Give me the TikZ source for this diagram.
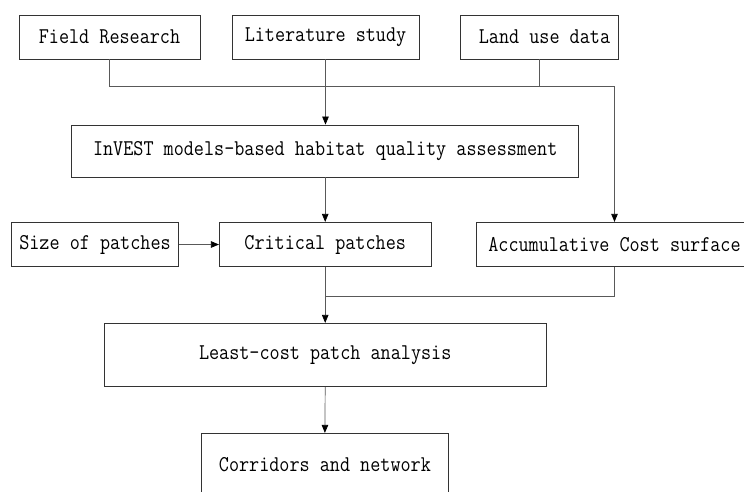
\documentclass[tikz,border=0pt]{standalone}
\usepackage{fontspec}
\usepackage{graphicx}
\usetikzlibrary{arrows.meta}
\newcommand\tallt[1]{\scalebox{1}[1.15]{#1}}
\begin{document}
\begin{tikzpicture}[x=1pt,y=-1pt,
  box/.style={draw=black!80,line width=0.8pt,inner sep=0pt,
    font=\ttfamily\fontsize{19.6}{22}\selectfont},
  conn/.style={draw=black!65,line width=0.7pt},
  arr/.style={conn,-{Triangle[length=8pt,width=6.5pt,color=black]}}]
\useasboundingbox (0,0) rectangle (744,491);
\clip (0,0) rectangle (744,491);
\node[box,minimum width=181pt,minimum height=44pt] (fr) at (109.5,37) {\tallt{Field Research}};
\node[box,minimum width=187pt,minimum height=44pt] (lit) at (325.5,37) {\tallt{Literature study}};
\node[box,minimum width=158pt,minimum height=44pt] (land) at (539,37) {\kern11pt\tallt{Land use data}};
\node[box,minimum width=507pt,minimum height=52pt] (inv) at (325.2,151) {\tallt{InVEST models-based habitat quality assessment}};
\node[box,minimum width=166.6pt,minimum height=44.4pt] (size) at (95,244.5) {\tallt{Size of patches}};
\node[box,minimum width=211.7pt,minimum height=44.4pt] (crit) at (325.2,244.5) {\tallt{Critical patches}};
\node[box,minimum width=276pt,minimum height=44.4pt] (acc) at (614.5,244.5) {\tallt{Accumulative Cost surface}};
\node[box,minimum width=441.7pt,minimum height=63.4pt] (lc) at (325.2,355) {\tallt{Least-cost patch analysis}};
\node[box,minimum width=247.7pt,minimum height=63pt] (cor) at (324.9,464.8) {\tallt{Corridors and network}};
\coordinate (bus) at (0,86);
\coordinate (bus2) at (0,296);
\draw[arr] (fr.south) |- (bus -| acc.north) -- (acc.north);
\draw[conn] (land.south) -- (land.south |- bus);
\draw[arr] (lit.south) -- (lit.south |- inv.north);
\draw[arr] (inv.south) -- (crit.north);
\draw[arr] (size.east) -- (crit.west);
\draw[arr] (crit.south) -- (lc.north);
\draw[conn] (acc.south) |- (bus2 -| crit.south);
\draw[arr] (lc.south) -- (cor.north);
\end{tikzpicture}
\end{document}
